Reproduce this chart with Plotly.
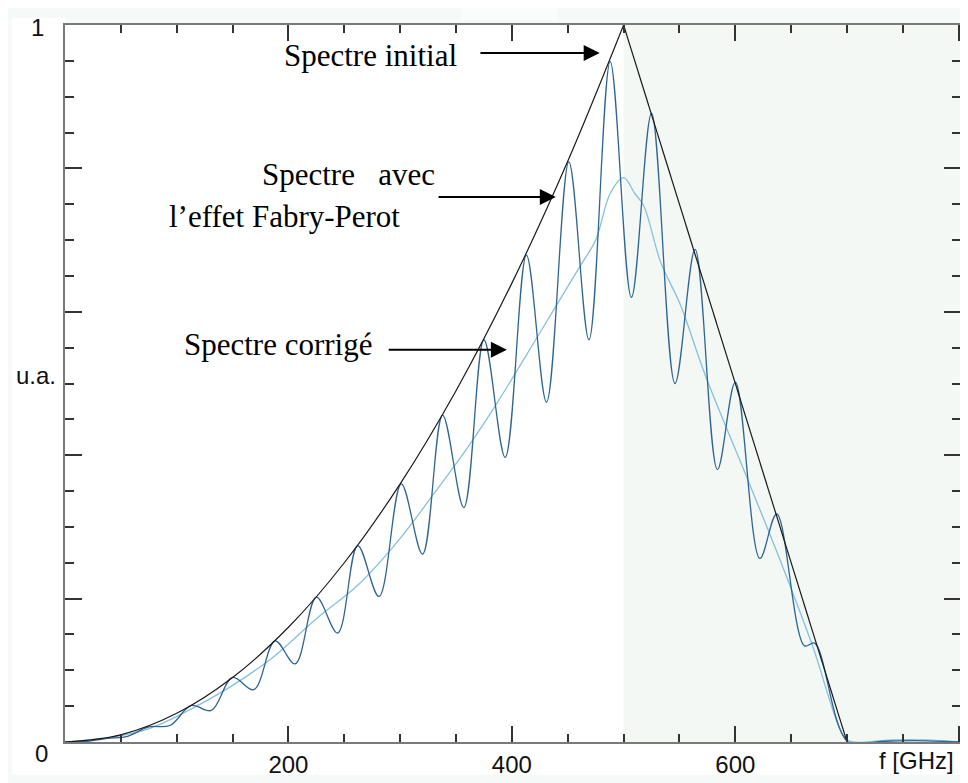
import plotly.graph_objects as go

# Spectre initial (enveloppe)
f_init = [0, 50, 100, 150, 200, 250, 300, 350, 400, 450, 500]
y_init = [0, 0.01, 0.04, 0.09, 0.16, 0.25, 0.36, 0.49, 0.64, 0.81, 1.0]
f_init_down = [500, 550, 600, 650, 700]
y_init_down = [1.0, 0.75, 0.5, 0.25, 0.0]

# Spectre avec l'effet Fabry-Perot (pics et creux)
f_fp = [0, 20, 38, 56, 75, 94, 113, 131, 150, 169, 188, 206, 225, 244, 262, 281,
        301, 320, 338, 357, 375, 394, 413, 431, 451, 469, 488, 507, 525, 546,
        564, 584, 600, 622, 637, 662, 671, 701, 730, 760, 800]
y_fp = [0, 0.001, 0.005, 0.008, 0.021, 0.023, 0.051, 0.044, 0.090, 0.073, 0.141,
        0.109, 0.202, 0.152, 0.274, 0.203, 0.360, 0.262, 0.456, 0.327, 0.561,
        0.397, 0.679, 0.474, 0.809, 0.561, 0.949, 0.620, 0.877, 0.500, 0.687,
        0.380, 0.502, 0.256, 0.318, 0.134, 0.138, 0.0, 0.001, 0.002, 0.0]

# Spectre corrigé
f_corr = [0, 40, 76, 114, 150, 186, 225, 263, 300, 330, 360, 386, 424, 460, 475,
          488, 500, 510, 518, 533, 551, 573, 609, 641, 668, 698, 705, 740, 770, 800]
y_corr = [0, 0.006, 0.019, 0.047, 0.079, 0.118, 0.172, 0.220, 0.284, 0.346, 0.41,
          0.471, 0.568, 0.661, 0.70, 0.765, 0.787, 0.765, 0.748, 0.67, 0.609,
          0.512, 0.374, 0.25, 0.139, 0.006, 0.0, 0.003, 0.003, 0.0]

x_ticks = [0, 200, 400, 600, 800]
x_ticktext = ['', '200', '400', '600', '']
y_ticks = [0, 0.2, 0.4, 0.6, 0.8, 1.0]

fig = go.Figure()

fig.add_trace(go.Scatter(x=f_corr, y=y_corr, mode='lines', line=dict(color='#86c0de', width=1.3, shape='spline'),
                         showlegend=False))
fig.add_trace(go.Scatter(x=f_fp, y=y_fp, mode='lines', line=dict(color='#2f6592', width=1.3, shape='spline', smoothing=1),
                         showlegend=False))
fig.add_trace(go.Scatter(x=f_init, y=y_init, mode='lines', line=dict(color='#1a1a1a', width=1.2, shape='spline'),
                         showlegend=False))
fig.add_trace(go.Scatter(x=f_init_down, y=y_init_down, mode='lines', line=dict(color='#1a1a1a', width=1.2),
                         showlegend=False))

# zone grisee a droite du pic + fond
fig.add_shape(type='rect', xref='x', yref='y', x0=500, x1=802, y0=0, y1=1, layer='below',
              fillcolor='#f3f8f5', line_width=0)
fig.add_shape(type='rect', xref='paper', yref='paper', x0=-0.059, x1=0, y0=-0.0457, y1=1.0097, layer='below',
              fillcolor='white', line_width=0)
fig.add_shape(type='rect', xref='paper', yref='paper', x0=0, x1=1.0, y0=-0.0457, y1=0, layer='below',
              fillcolor='white', line_width=0)
fig.add_shape(type='rect', xref='x', yref='paper', x0=355, x1=441, y0=1.007, y1=1.0235, layer='below',
              fillcolor='#fbfdfc', line_width=0)

serif = 'Liberation Serif, Times New Roman, serif'
sans = 'Liberation Sans, Arial, sans-serif'

texts = [
    dict(x=194.6, y=0.957, text='Spectre initial', xanchor='left'),
    dict(x=174.1, y=0.792, text='Spectre\u00a0\u00a0\u00a0avec', xanchor='left'),
    dict(x=301.8, y=0.733, text='l\u2019effet Fabry-Perot', xanchor='right'),
    dict(x=276.8, y=0.554, text='Spectre corrigé', xanchor='right'),
]
for t in texts:
    fig.add_annotation(x=t['x'], y=t['y'], xref='x', yref='y', text=t['text'], showarrow=False,
                       xanchor=t['xanchor'], yanchor='middle', font=dict(family=serif, size=31, color='black'))

arrows = [((478.6, 0.961), (370.5, 0.961)),
          ((439.3, 0.760), (333.0, 0.760)),
          ((395.5, 0.547), (288.4, 0.547))]
for (tx, ty), (sx, sy) in arrows:
    fig.add_annotation(x=tx, y=ty, ax=sx, ay=sy, xref='x', yref='y', axref='x', ayref='y', text='',
                       showarrow=True, arrowhead=2, arrowsize=1.6, arrowwidth=2, arrowcolor='black')

fig.add_annotation(x=0.95, y=-0.0263, xref='paper', yref='paper', text='f [GHz]', showarrow=False,
                   xanchor='center', yanchor='middle', font=dict(family=sans, size=24, color='#111'))
fig.add_annotation(x=-0.0267, y=-0.0166, xref='paper', yref='paper', text='0', showarrow=False,
                   xanchor='center', yanchor='middle', font=dict(family=sans, size=24, color='#111'))
fig.add_annotation(x=-0.031, y=0.997, xref='paper', yref='paper', text='1', showarrow=False,
                   xanchor='center', yanchor='middle', font=dict(family=sans, size=24, color='#111'))
fig.add_annotation(x=-0.0078, y=0.511, xref='paper', yref='paper', text='u.a.', showarrow=False,
                   xanchor='right', yanchor='middle', font=dict(family=sans, size=24, color='#111'))

fig.update_xaxes(range=[0, 802], tickvals=x_ticks, ticktext=x_ticktext, ticks='inside', ticklen=16,
                 tickwidth=1.5, tickcolor='#333', showline=True, linecolor='#7a7a7a', linewidth=2,
                 mirror='allticks', showgrid=False, zeroline=False,
                 tickfont=dict(family=sans, size=24, color='#111'),
                 minor=dict(dtick=50, ticks='inside', ticklen=8, tickwidth=1.5, tickcolor='#333', showgrid=False))
fig.update_yaxes(range=[0, 1], tickvals=y_ticks, showticklabels=False, ticks='inside', ticklen=17,
                 tickwidth=1.5, tickcolor='#333', showline=True, linecolor='#7a7a7a', linewidth=2,
                 mirror='allticks', showgrid=False, zeroline=False,
                 minor=dict(dtick=0.05, ticks='inside', ticklen=9, tickwidth=1.5, tickcolor='#333', showgrid=False))

# la page html ajoute une marge de 8px autour de la figure
fig.update_layout(width=960, height=775, margin=dict(l=57, r=5, t=17, b=36),
                  paper_bgcolor='#f5f9f7', plot_bgcolor='white', showlegend=False)

fig.write_html("out.html")
